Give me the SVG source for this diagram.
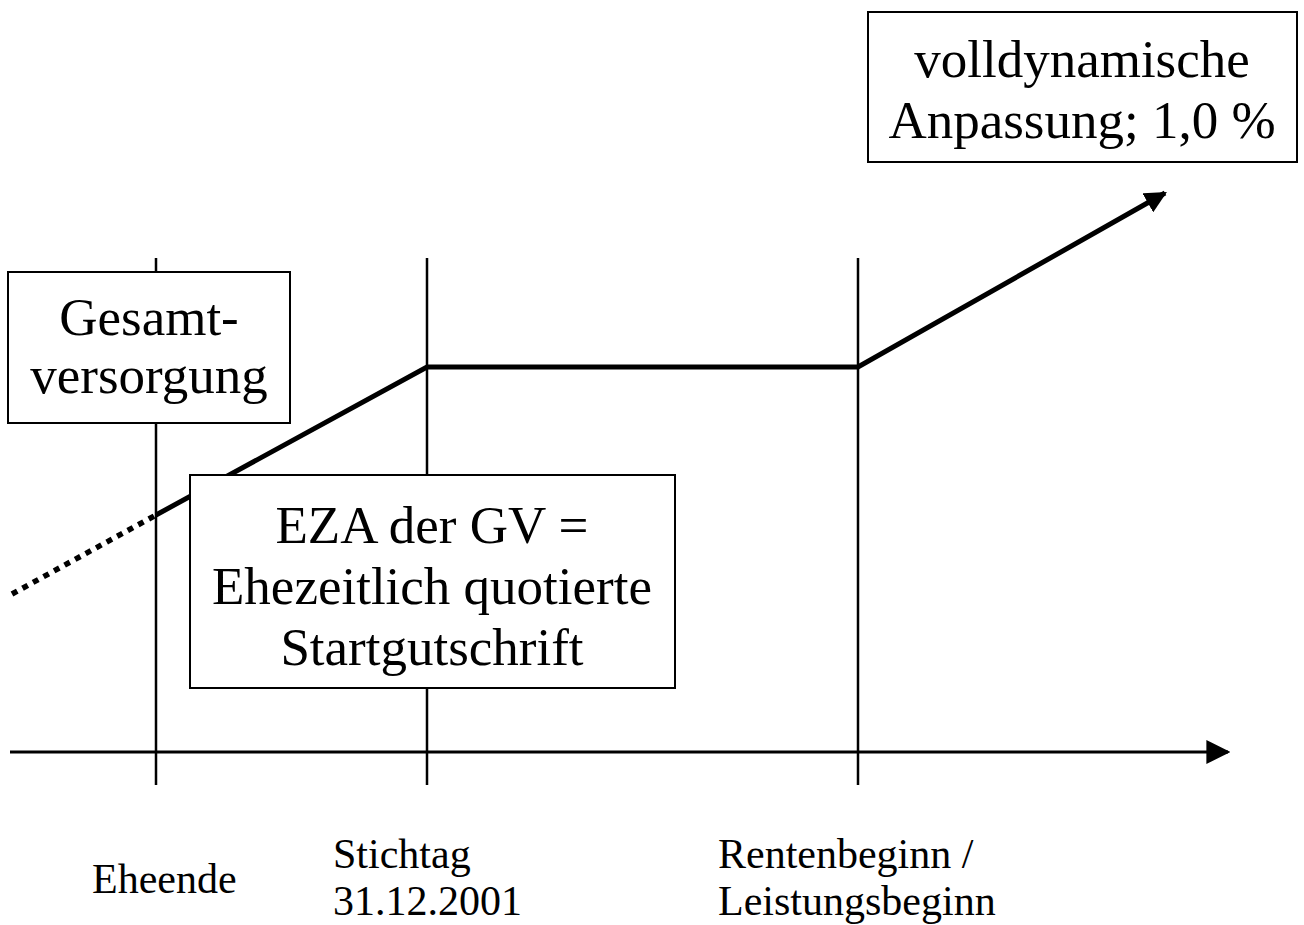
<svg xmlns="http://www.w3.org/2000/svg" width="1304" height="925" viewBox="0 0 1304 925">
<style>
.t{font-family:"Liberation Serif","Times New Roman",serif;fill:#000}
.big{font-size:53px;text-anchor:middle}
.lbl{font-size:42px}
.box{fill:#fff;stroke:#000;stroke-width:2}
.v{stroke:#000;stroke-width:2.5;fill:none}
</style>
<defs>
<marker id="ah" viewBox="0 0 10 10" refX="9" refY="5" markerWidth="4.4" markerHeight="4.4" orient="auto" markerUnits="strokeWidth">
<path d="M0,0L10,5L0,10z" fill="#000"/>
</marker>
<marker id="ah2" viewBox="0 0 10 10" refX="9" refY="5" markerWidth="8" markerHeight="8" orient="auto" markerUnits="strokeWidth">
<path d="M0,0L10,5L0,10z" fill="#000"/>
</marker>
</defs>
<g id="connectors">
<line class="v" x1="156" y1="258" x2="156" y2="785"/>
<line class="v" x1="427" y1="258" x2="427" y2="785"/>
<line class="v" x1="858" y1="258" x2="858" y2="785"/>
<line x1="10" y1="752" x2="1228" y2="752" stroke="#000" stroke-width="3" marker-end="url(#ah2)"/>
<line x1="12" y1="594" x2="156" y2="515" stroke="#000" stroke-width="5.5" stroke-dasharray="6,6"/>
<polyline points="156,515 427,367 858,367 1165,193" fill="none" stroke="#000" stroke-width="5" marker-end="url(#ah)"/>
</g>
<g id="gesamt">
<rect class="box" x="8" y="272" width="282" height="151"/>
<text class="t big" x="149" y="335">Gesamt-</text>
<text class="t big" x="149" y="393">versorgung</text>
</g>
<g id="volldyn">
<rect class="box" x="868" y="12" width="429" height="150"/>
<text class="t big" x="1082" y="77">volldynamische</text>
<text class="t big" x="1082" y="138">Anpassung; 1,0 %</text>
</g>
<g id="eza">
<rect class="box" x="190" y="475" width="485" height="213"/>
<text class="t big" x="432" y="543">EZA der GV =</text>
<text class="t big" x="432" y="604">Ehezeitlich quotierte</text>
<text class="t big" x="432" y="665">Startgutschrift</text>
</g>
<g id="labels">
<text class="t lbl" x="92" y="893">Eheende</text>
<text class="t lbl" x="333" y="868">Stichtag</text>
<text class="t lbl" x="333" y="915">31.12.2001</text>
<text class="t lbl" x="718" y="868">Rentenbeginn /</text>
<text class="t lbl" x="718" y="915">Leistungsbeginn</text>
</g>
</svg>
